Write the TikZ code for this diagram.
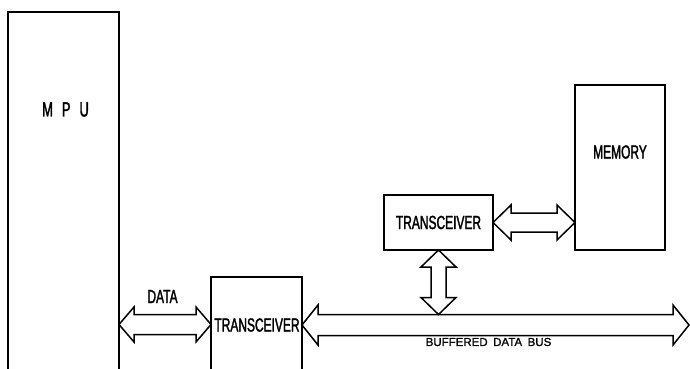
\documentclass[tikz,border=0pt]{standalone}
\usepackage{fontspec}
\usepackage{graphicx}
\newfontfamily\plotfont[FakeStretch=0.63,FakeBold=1.6]{Liberation Sans}
\newfontfamily\plotfontwide[FakeBold=1.2]{Liberation Sans}
\usetikzlibrary{calc}
\tikzset{
  box/.style={draw, line width=1.8pt, inner sep=0pt, outer sep=0pt, font=\plotfont\fontsize{19}{19}\selectfont},
  lbl/.style={inner sep=0pt, font=\plotfont\fontsize{19}{19}\selectfont},
  smalllbl/.style={inner sep=0pt, font=\plotfontwide\fontsize{11.5}{11.5}\selectfont},
  busarrow/.style={draw, line width=1.5pt, line join=miter},
}
\newcommand\hdarrow[5]{%
  \draw[busarrow] let \p1=#1, \p2=#2 in
  (\x1,\y1) -- (\x1+#3,\y1+#4) -- (\x1+#3,\y1+#5) -- (\x2-#3,\y1+#5) -- (\x2-#3,\y1+#4)
  -- (\x2,\y1) -- (\x2-#3,\y1-#4) -- (\x2-#3,\y1-#5) -- (\x1+#3,\y1-#5) -- (\x1+#3,\y1-#4) -- cycle;}
\newcommand\vdarrow[5]{%
  \draw[busarrow] let \p1=#1, \p2=#2 in
  (\x1,\y1) -- (\x1+#4,\y1-#3) -- (\x1+#5,\y1-#3) -- (\x1+#5,\y2+#3) -- (\x1+#4,\y2+#3)
  -- (\x1,\y2) -- (\x1-#4,\y2+#3) -- (\x1-#5,\y2+#3) -- (\x1-#5,\y1-#3) -- (\x1-#4,\y1-#3) -- cycle;}
\begin{document}
\begin{tikzpicture}[x=1pt,y=-1pt]
\useasboundingbox (0,0) rectangle (690,369);
% boxes
\node[box, minimum width=111pt, minimum height=360pt] (mpu) at (63.5,192) {};
\node[lbl, font=\plotfont\fontsize{20.5}{20.5}\selectfont] (mpulabel) at (65.5,109.5) {\spaceskip=9pt M P U};
\node[box, minimum width=91pt, minimum height=95pt] (t1) at (256.5,324.5) {};
\node[lbl] (t1label) at (257,325) {TRANSCEIVER};
\node[box, minimum width=109pt, minimum height=55pt] (t2) at (438.5,222.5) {TRANSCEIVER};
\node[box, minimum width=90pt, minimum height=165pt] (mem) at (620,167.5) {};
\node[lbl] (memlabel) at (620,152) {MEMORY};
% bus end points
\coordinate (busend) at (689,325);
\coordinate (bustop) at (438.5,314.5);
% arrows
\hdarrow{(mpu.east |- t1.west)}{(t1.west)}{15pt}{17.5pt}{10pt}
\node[lbl] (datalabel) at (162.5,296.5) {DATA};
\hdarrow{(t1.east |- busend)}{(busend)}{16pt}{20pt}{10.5pt}
\node[smalllbl] (buslabel) at (488.5,342) {\spaceskip=5.5pt BUFFERED DATA BUS};
\vdarrow{(t2.south)}{(bustop)}{17pt}{17.5pt}{7.5pt}
\hdarrow{(t2.east)}{(mem.west |- t2.east)}{18pt}{17.5pt}{9.5pt}
\end{tikzpicture}
\end{document}
